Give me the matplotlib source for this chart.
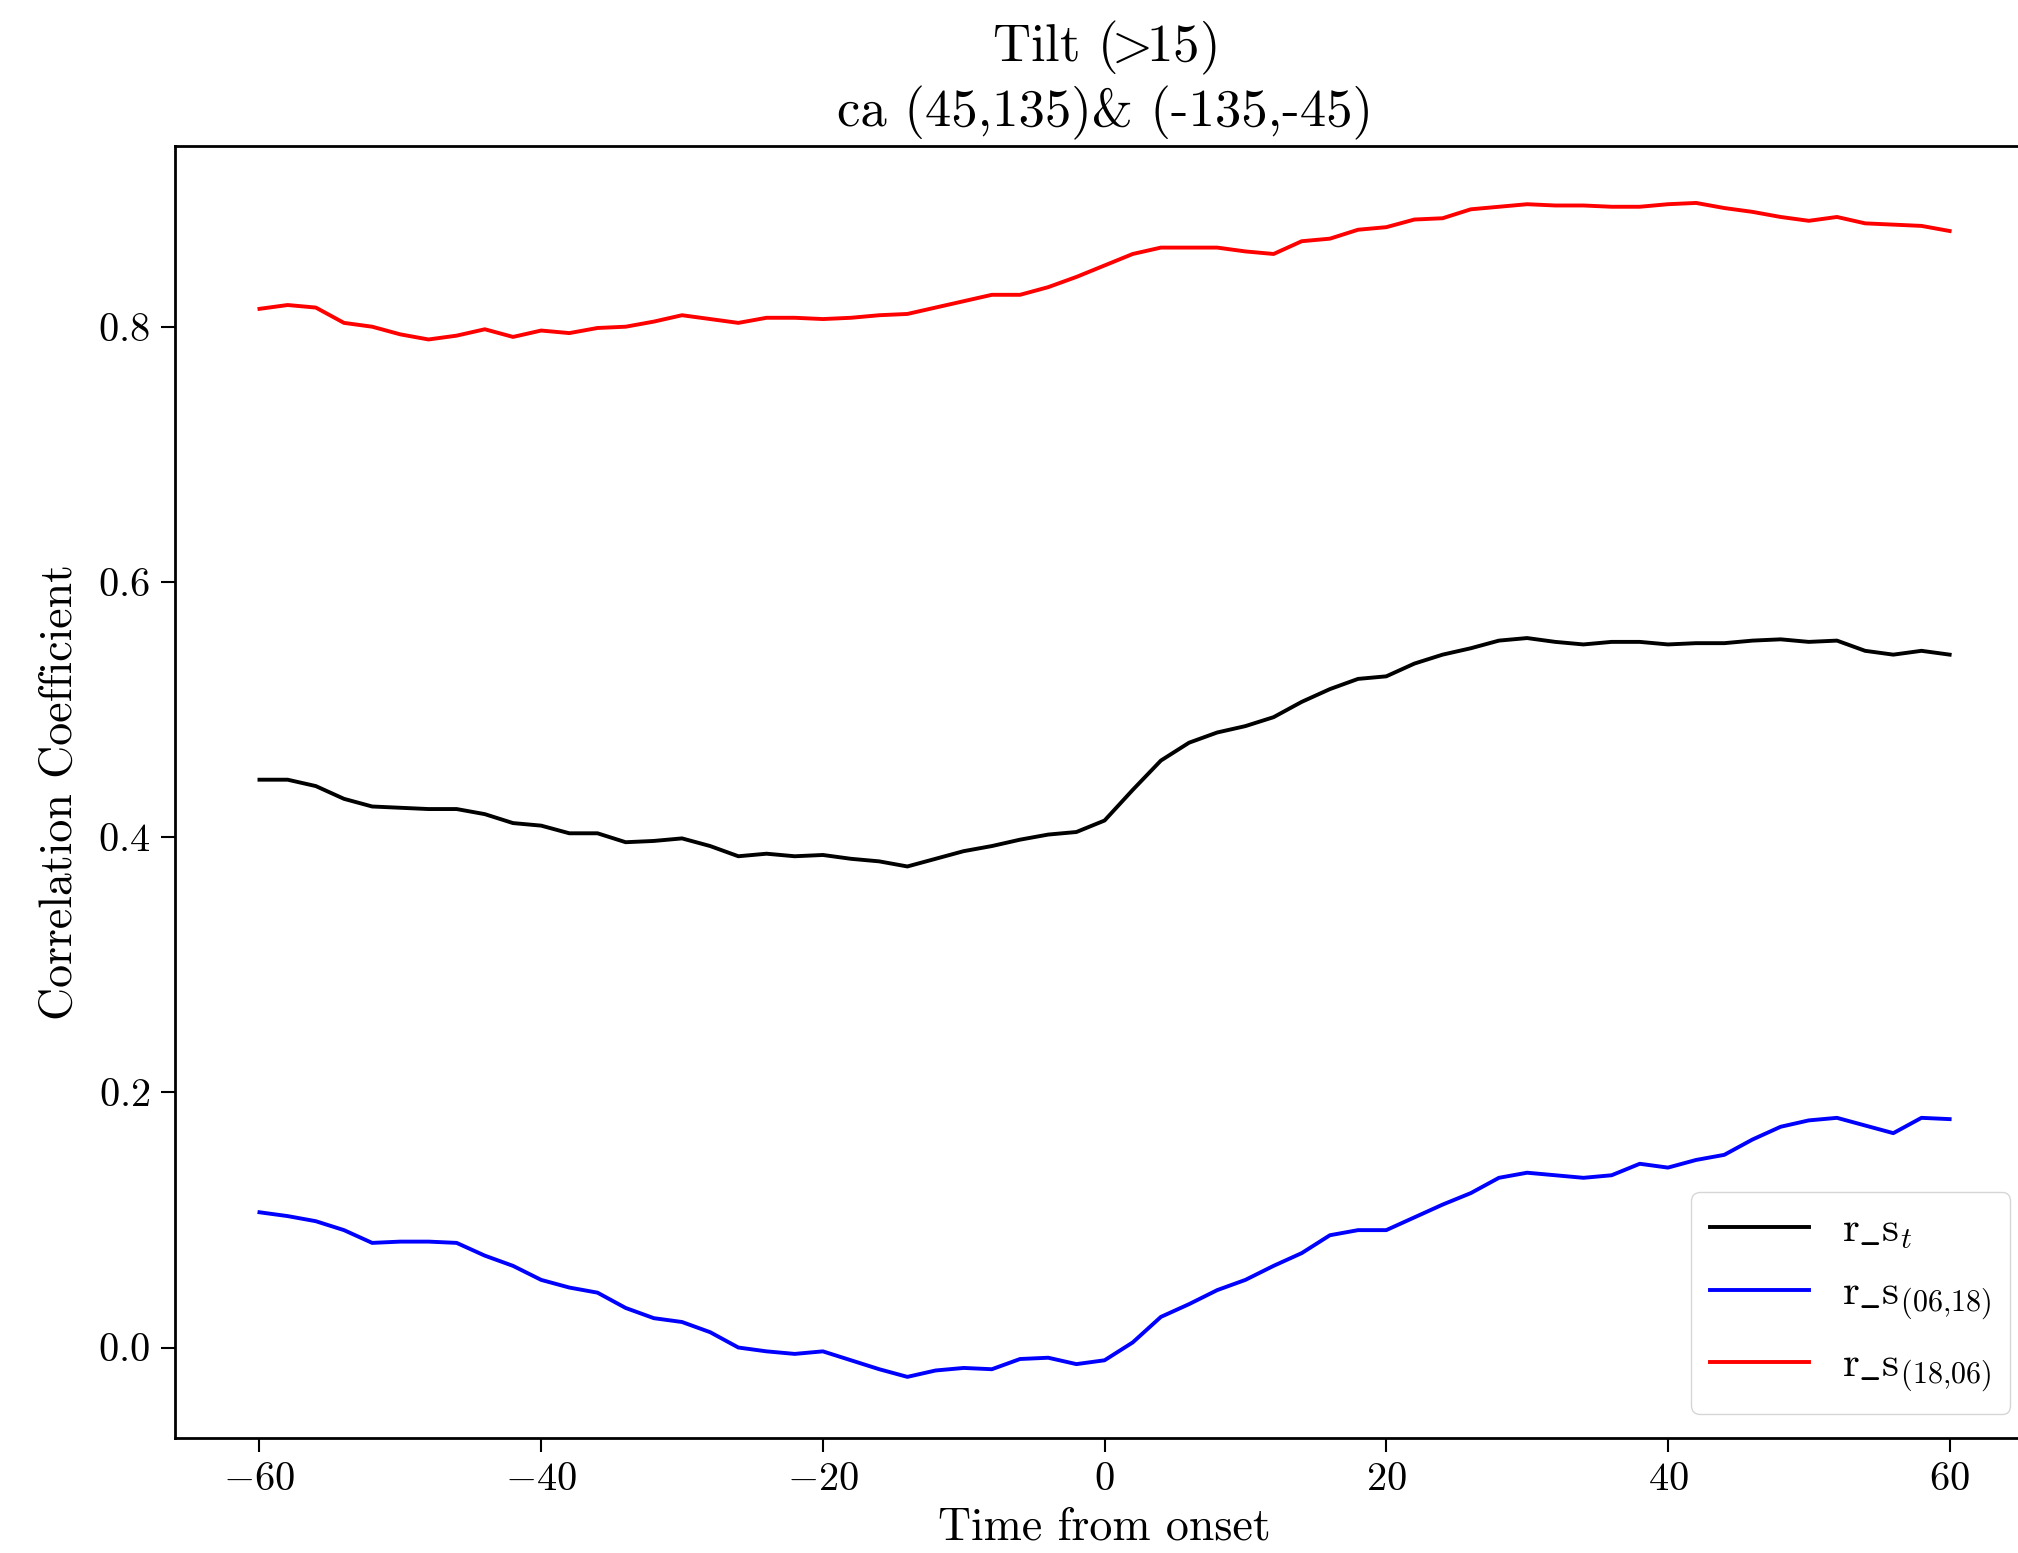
import numpy as np
import matplotlib
matplotlib.use("Agg")
import matplotlib.pyplot as plt

plt.rcParams["font.family"] = "serif"
plt.rcParams["font.serif"] = ["cmr10", "DejaVu Serif"]
plt.rcParams["mathtext.fontset"] = "cm"
plt.rcParams["axes.formatter.use_mathtext"] = True
plt.rcParams["axes.unicode_minus"] = True

# time from onset, sampled every 2 units
time = np.arange(-60, 61, 2)

r_s_t = [0.445, 0.445, 0.440, 0.430, 0.424, 0.423, 0.422, 0.422, 0.418, 0.411,
         0.409, 0.403, 0.403, 0.396, 0.397, 0.399, 0.393, 0.385, 0.387, 0.385,
         0.386, 0.383, 0.381, 0.377, 0.383, 0.389, 0.393, 0.398, 0.402, 0.404,
         0.413, 0.437, 0.460, 0.474, 0.482, 0.487, 0.494, 0.506, 0.516, 0.524,
         0.526, 0.536, 0.543, 0.548, 0.554, 0.556, 0.553, 0.551, 0.553, 0.553,
         0.551, 0.552, 0.552, 0.554, 0.555, 0.553, 0.554, 0.546, 0.543, 0.546,
         0.543]

r_s_0618 = [0.106, 0.103, 0.099, 0.092, 0.082, 0.083, 0.083, 0.082, 0.072, 0.064,
            0.053, 0.047, 0.043, 0.031, 0.023, 0.020, 0.012, 0.000, -0.003, -0.005,
            -0.003, -0.010, -0.017, -0.023, -0.018, -0.016, -0.017, -0.009, -0.008, -0.013,
            -0.010, 0.004, 0.024, 0.034, 0.045, 0.053, 0.064, 0.074, 0.088, 0.092,
            0.092, 0.102, 0.112, 0.121, 0.133, 0.137, 0.135, 0.133, 0.135, 0.144,
            0.141, 0.147, 0.151, 0.163, 0.173, 0.178, 0.180, 0.174, 0.168, 0.180,
            0.179]

r_s_1806 = [0.814, 0.817, 0.815, 0.803, 0.800, 0.794, 0.790, 0.793, 0.798, 0.792,
            0.797, 0.795, 0.799, 0.800, 0.804, 0.809, 0.806, 0.803, 0.807, 0.807,
            0.806, 0.807, 0.809, 0.810, 0.815, 0.820, 0.825, 0.825, 0.831, 0.839,
            0.848, 0.857, 0.862, 0.862, 0.862, 0.859, 0.857, 0.867, 0.869, 0.876,
            0.878, 0.884, 0.885, 0.892, 0.894, 0.896, 0.895, 0.895, 0.894, 0.894,
            0.896, 0.897, 0.893, 0.890, 0.886, 0.883, 0.886, 0.881, 0.880, 0.879,
            0.875]

fig = plt.figure(figsize=(20.18, 15.53), dpi=100)
ax = fig.add_axes([0.0867, 0.0743, 0.9213, 0.832])

lw = 2.8
ax.plot(time, r_s_t, color="k", lw=lw, label=r"$\mathrm{r\_s}_t$")
ax.plot(time, r_s_0618, color="b", lw=lw, label=r"$\mathrm{r\_s}_{(06{,}18)}$")
ax.plot(time, r_s_1806, color="r", lw=lw, label=r"$\mathrm{r\_s}_{(18{,}06)}$")

ax.set_xlim(-66, 66)
ax.set_ylim(-0.0706, 0.942)
ax.set_xticks([-60, -40, -20, 0, 20, 40, 60])
ax.set_yticks([0.0, 0.2, 0.4, 0.6, 0.8])
ax.tick_params(labelsize=29, length=10, width=1.5, pad=8)
for s in ax.spines.values():
    s.set_linewidth(2)

ax.set_xlabel("Time from onset", fontsize=33, labelpad=6)
ax.set_ylabel("Correlation Coefficient", fontsize=33, labelpad=12)
ax.set_title("Tilt ($\\!\\!>\\!\\!$15)\nca (45,135)& (-135,-45)", fontsize=38, pad=14)

ax.legend(loc="lower right", fontsize=31, handlelength=2.3, borderaxespad=0.55,
          labelspacing=0.56, handletextpad=0.75, borderpad=0.45)

fig.savefig("out.png", dpi=100)
